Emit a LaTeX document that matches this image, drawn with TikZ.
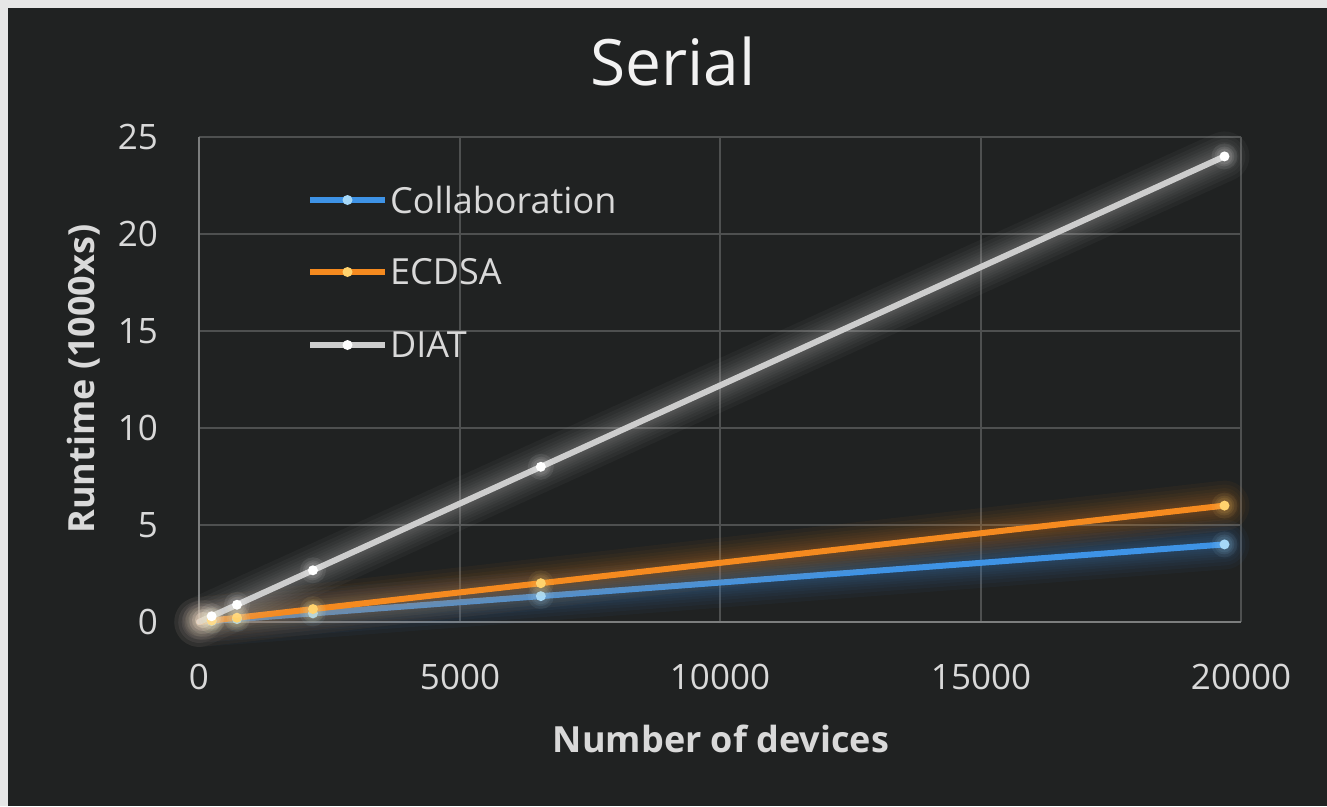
\documentclass[tikz,border=0pt]{standalone}
\usepackage{fontspec}
\setmainfont{Open Sans}
\definecolor{bg}{HTML}{202222}
\definecolor{frame}{HTML}{E6E6E6}
\definecolor{gridc}{HTML}{4E5050}
\definecolor{axisc}{HTML}{7C7E7E}
\definecolor{txt}{HTML}{D9D9D9}
\definecolor{blueS}{HTML}{3E93E6}
\definecolor{blueM}{HTML}{A6D8F7}
\definecolor{orangeS}{HTML}{F58A1F}
\definecolor{orangeM}{HTML}{FFD36E}
\definecolor{grayS}{HTML}{CDCDCD}
\definecolor{grayM}{HTML}{FFFFFF}
\definecolor{peach}{HTML}{F2DCC6}
\tikzset{
  ticklbl/.style={text=txt, font=\fontsize{35}{40}\selectfont, inner sep=0pt},
  axtitle/.style={text=txt, font=\fontsize{36}{40}\selectfont\bfseries, inner sep=0pt},
  legtext/.style={text=txt, font=\fontsize{36}{40}\selectfont, inner sep=0pt, anchor=west},
  gridline/.style={draw=gridc, line width=2pt},
  glow/.style={draw=#1, line cap=round, line join=round},
  core/.style={draw=#1, line width=6pt, line cap=round, line join=round},
  dot/.style={circle, fill=#1, inner sep=0pt, minimum size=10pt},
}
\begin{document}
\begin{tikzpicture}[x=1pt, y=-1pt]
\useasboundingbox (0,0) rectangle (1327,806);
% frame and background
\fill[frame] (0,0) rectangle (1327,806);
\fill[bg] (8,8) rectangle (1327,806);

% grid
\foreach \yy in {137,234,331,428,525}
  \draw[gridline] (199,\yy) -- (1241,\yy);
\foreach \xx in {460,720,981,1241}
  \draw[gridline] (\xx,137) -- (\xx,622);
\draw[axisc, line width=2pt] (199,137) -- (199,622) -- (1241,622);

% axis tick labels
\foreach \v/\yy in {0/622,5/525,10/428,15/331,20/234,25/137}
  \node[ticklbl, anchor=east] (yt\v) at (158,\yy) {\v};
\foreach \v/\xx in {0/199,5000/460,10000/720,15000/981,20000/1241}
  \node[ticklbl] (xt\v) at (\xx,677) {\v};

% titles
\node[text=white!95!black, font=\fontsize{64}{70}\selectfont, inner sep=0pt, anchor=base] (title) at (673,85) {Serial};
\node[axtitle, anchor=base] (xtitle) at (721,752) {Number of devices};
\node[axtitle, rotate=90, anchor=base] (ytitle) at (94,379) {Runtime (1000xs)};

% data points: n = 3^k devices (in thousands), k = 1..9
\foreach \n [count=\i] in {0.003,0.009,0.027,0.081,0.243,0.729,2.187,6.561,19.683} {
  \coordinate (C\i) at ({199+\n*52.1},{622-\n/19.683*77.6});
  \coordinate (E\i) at ({199+\n*52.1},{622-\n/19.683*116.4});
  \coordinate (D\i) at ({199+\n*52.1},{622-\n/19.683*465.6});
}

% series: soft halo then core line
\foreach \s/\cs in {C/blueS,E/orangeS,D/grayS} {
  \foreach \w in {50,42,35,29,24,19,15,11} {
    \draw[glow=\cs, line width=\w pt, opacity=0.045]
      (\s1) -- (\s2) -- (\s3) -- (\s4) -- (\s5) -- (\s6) -- (\s7) -- (\s8) -- (\s9);
  }
  \draw[core=\cs]
    (\s1) -- (\s2) -- (\s3) -- (\s4) -- (\s5) -- (\s6) -- (\s7) -- (\s8) -- (\s9);
}

% bright blob at the origin where the markers pile up
\foreach \r/\o in {20/0.06,17/0.08,14/0.12,11/0.2,8/0.35} {
  \fill[peach, opacity=\o] (203,620) circle (\r);
}

% markers
\foreach \s/\cm in {C/blueM,E/orangeM,D/grayM} {
  \foreach \i in {5,...,9} {
    \foreach \r in {13,10,8} {
      \fill[\cm, opacity=0.08] (\s\i) circle (\r);
    }
    \node[dot=\cm] (m\s\i) at (\s\i) {};
  }
}

% legend
\foreach \s/\cs/\cm/\yy/\lbl in {C/blueS/blueM/200/Collaboration,E/orangeS/orangeM/272/ECDSA,D/grayS/grayM/345/DIAT} {
  \coordinate (L\s a) at (310,\yy);
  \coordinate (L\s b) at (385,\yy);
  \draw[core=\cs, line width=6pt, line cap=butt] (L\s a) -- (L\s b);
  \node[dot=\cm] (Lm\s) at (347.5,\yy) {};
  \node[legtext] (Lt\s) at (390,\yy) {\lbl};
}
\end{tikzpicture}
\end{document}
